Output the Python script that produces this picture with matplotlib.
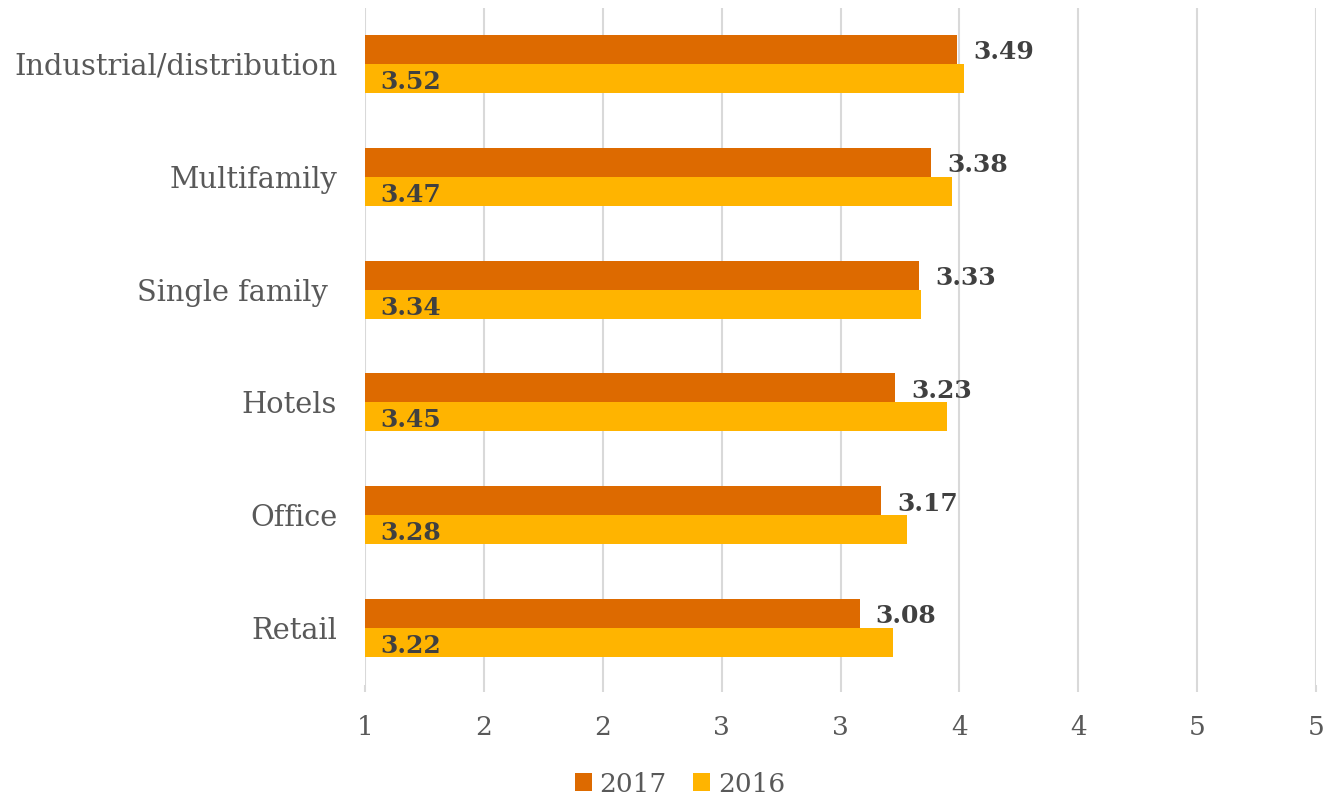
import matplotlib.pyplot as plt
import numpy as np

# data
categories = ["Industrial/distribution", "Multifamily", "Single family ", "Hotels", "Office", "Retail"]
vals_2017 = [3.49, 3.38, 3.33, 3.23, 3.17, 3.08]
vals_2016 = [3.52, 3.47, 3.34, 3.45, 3.28, 3.22]
xticks = [1, 1.5, 2, 2.5, 3, 3.5, 4, 4.5, 5]
xtick_labels = ["1", "2", "2", "3", "3", "4", "4", "5", "5"]

c2017 = "#DD6A00"
c2016 = "#FFB400"
serif = ["DejaVu Serif"]

fig = plt.figure(figsize=(13.24, 7.98), dpi=100)
ax = fig.add_axes([365/1324, 1-684.5/798, (1316-365)/1324, 677/798])

y = np.arange(len(categories))
h = 0.257
b17 = ax.barh(y - h/2, vals_2017, height=h, color=c2017, label="2017", left=0, zorder=3)
b16 = ax.barh(y + h/2, vals_2016, height=h, color=c2016, label="2016", left=0, zorder=3)

ax.set_xlim(1, 5)
ax.set_ylim(len(categories) - 0.5, -0.5)
ax.set_xticks(xticks)
ax.set_xticklabels(xtick_labels, family=serif, fontsize=19, color="#595959")
ax.set_yticks(y)
ax.set_yticklabels(categories, family=serif, fontsize=20.8, color="#595959")
ax.tick_params(axis="y", length=0, pad=20)
ax.tick_params(axis="x", length=5, color="#D9D9D9", width=1.5, pad=17)
ax.grid(axis="x", color="#D9D9D9", linewidth=1.5, zorder=0)
for s in ax.spines.values():
    s.set_visible(False)

# labels: 2017 outside end, 2016 inside base
for yi, v in zip(y, vals_2017):
    ax.annotate(f"{v:.2f}", (v, yi - h/2), xytext=(11.5, -2), textcoords="offset points",
                ha="left", va="center", fontsize=18, fontweight="bold", family=serif, color="#404040")
for yi, v in zip(y, vals_2016):
    ax.annotate(f"{v:.2f}", (1, yi + h/2), xytext=(11, -2.5), textcoords="offset points",
                ha="left", va="center", fontsize=18, fontweight="bold", family=serif, color="#404040")

fig.legend(handles=[b17, b16], loc="center", bbox_to_anchor=(680/1324, 1-784/798), ncol=2,
           frameon=False, handlelength=0.65, handleheight=0.65, handletextpad=0.3, columnspacing=1.0,
           prop={"family": serif, "size": 19}, labelcolor="#595959")

fig.savefig("out.png", dpi=100)
